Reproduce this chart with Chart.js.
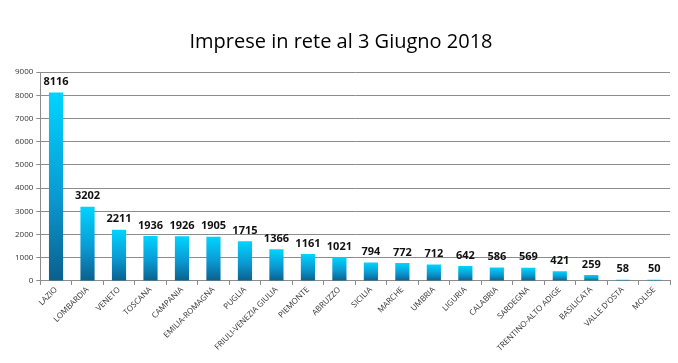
<!DOCTYPE html>
<html>
<head>
<meta charset="utf-8">
<script src="https://cdn.jsdelivr.net/npm/chart.js@4"></script>
<style>
  html, body { margin: 0; padding: 0; background: #fff; }
  #wrap { width: 678px; height: 363px; }
</style>
</head>
<body>
<div id="wrap"><canvas id="myChart"></canvas></div>
<script>
const regions = [
    "LAZIO", "LOMBARDIA", "VENETO", "TOSCANA", "CAMPANIA", "EMILIA-ROMAGNA",
    "PUGLIA", "FRIULI-VENEZIA GIULIA", "PIEMONTE", "ABRUZZO", "SICILIA",
    "MARCHE", "UMBRIA", "LIGURIA", "CALABRIA", "SARDEGNA",
    "TRENTINO-ALTO ADIGE", "BASILICATA", "VALLE D'OSTA", "MOLISE"
];
const imprese = [8116, 3202, 2211, 1936, 1926, 1905, 1715, 1366, 1161, 1021,
    794, 772, 712, 642, 586, 569, 421, 259, 58, 50];
const yTicks = [0, 1000, 2000, 3000, 4000, 5000, 6000, 7000, 8000, 9000];

// gradient per bar, from its base (dark) to its top (cyan)
function barGradient(context) {
    const chart = context.chart;
    const {ctx, chartArea} = chart;
    if (!chartArea) {
        return "#0aa0d8";
    }
    const yScale = chart.scales.y;
    const top = yScale.getPixelForValue(context.raw);
    const base = yScale.getPixelForValue(0);
    const g = ctx.createLinearGradient(0, base, 0, Math.min(top, base - 1));
    g.addColorStop(0, "#0b5f8c");
    g.addColorStop(0.45, "#0a9ad2");
    g.addColorStop(1, "#00d4ff");
    return g;
}

// value labels above bars
const valueLabels = {
    id: "valueLabels",
    afterDatasetsDraw(chart) {
        const ctx = chart.ctx;
        const meta = chart.getDatasetMeta(0);
        ctx.save();
        ctx.font = "bold 11px 'Open Sans', sans-serif";
        ctx.fillStyle = "#111";
        ctx.textAlign = "center";
        ctx.textBaseline = "bottom";
        meta.data.forEach((bar, i) => {
            ctx.fillText(imprese[i], bar.x, bar.y - 5);
        });
        ctx.restore();
    }
};

const config = {
    type: "bar",
    data: {
        labels: regions,
        datasets: [{
            data: imprese,
            backgroundColor: barGradient,
            borderWidth: 0,
            barPercentage: 0.45,
            categoryPercentage: 1
        }]
    },
    options: {
        responsive: true,
        maintainAspectRatio: false,
        animation: false,
        layout: { padding: { left: 12, right: 8, top: 8, bottom: 10 } },
        scales: {
            y: {
                min: 0,
                max: 9000,
                afterBuildTicks: (scale) => {
                    scale.ticks = yTicks.map(v => ({ value: v }));
                },
                grid: {
                    color: "#8c8c8c",
                    tickLength: 4,
                    tickColor: "#8c8c8c"
                },
                border: { color: "#8c8c8c" },
                ticks: {
                    color: "#333",
                    font: { size: 8, family: "'Open Sans', sans-serif" },
                    padding: 3,
                    callback: (v) => String(v)
                }
            },
            x: {
                grid: {
                    drawOnChartArea: false,
                    tickLength: 4,
                    color: "#8c8c8c"
                },
                border: { color: "#8c8c8c" },
                ticks: {
                    color: "#333",
                    maxRotation: 45,
                    minRotation: 45,
                    autoSkip: false,
                    font: { size: 8, family: "'Open Sans', sans-serif" },
                    padding: 0
                }
            }
        },
        plugins: {
            legend: { display: false },
            tooltip: { enabled: false },
            title: {
                display: true,
                text: "Imprese in rete al 3 Giugno 2018",
                color: "#000",
                font: { size: 20, weight: "normal", family: "'Open Sans', sans-serif" },
                padding: { top: 22, bottom: 18 }
            }
        }
    },
    plugins: [valueLabels]
};

const myChart = new Chart(document.getElementById("myChart"), config);
</script>
</body>
</html>
